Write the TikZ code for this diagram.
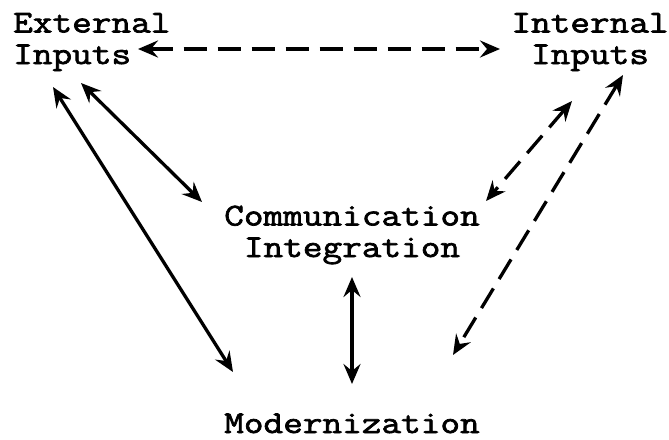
\documentclass[tikz,border=0pt]{standalone}
\usepackage{fontspec}
\newfontfamily\courfont[FakeStretch=1.2,FakeBold=2.2]{Latin Modern Mono}
\usetikzlibrary{arrows.meta}
\begin{document}
\begin{tikzpicture}[x=1pt,y=-1pt,
  lbl/.style={font=\fontsize{31.8}{31.5}\selectfont\courfont, inner sep=0pt},
  conn/.style={line width=3.3pt, arrows={Stealth[length=20pt,width=17pt,inset=7pt]-Stealth[length=20pt,width=17pt,inset=7pt]}},
  dconn/.style={conn, dash pattern=on 23pt off 11pt}]
\useasboundingbox (0,0) rectangle (669,439);
\node[lbl, align=left, anchor=base west] (ext) at (13,64) {External\\Inputs};
\node[lbl, align=center, anchor=base] (int) at (590,64) {Internal\\Inputs};
\node[lbl, align=center, anchor=base] (comm) at (352,257) {Communication\\Integration};
\node[lbl, anchor=base] (mod) at (352,433) {Modernization};
% connector ends
\coordinate (ext-int) at (138,49);
\coordinate (int-ext) at (500,49);
\coordinate (ext-comm) at (81,83);
\coordinate (comm-ext) at (202,202);
\coordinate (ext-mod) at (53,87);
\coordinate (mod-ext) at (233,372);
\coordinate (int-comm) at (572,101);
\coordinate (comm-int) at (486,201);
\coordinate (int-mod) at (623,75);
\coordinate (mod-int) at (453,355);
\coordinate (comm-mod) at (352,277);
\coordinate (mod-comm) at (352,384);
\draw[dconn] (ext-int) -- (int-ext);
\draw[conn] (ext-comm) -- (comm-ext);
\draw[conn] (ext-mod) -- (mod-ext);
\draw[dconn] (int-comm) -- (comm-int);
\draw[dconn] (int-mod) -- (mod-int);
\draw[conn] (comm-mod) -- (mod-comm);
\end{tikzpicture}
\end{document}
